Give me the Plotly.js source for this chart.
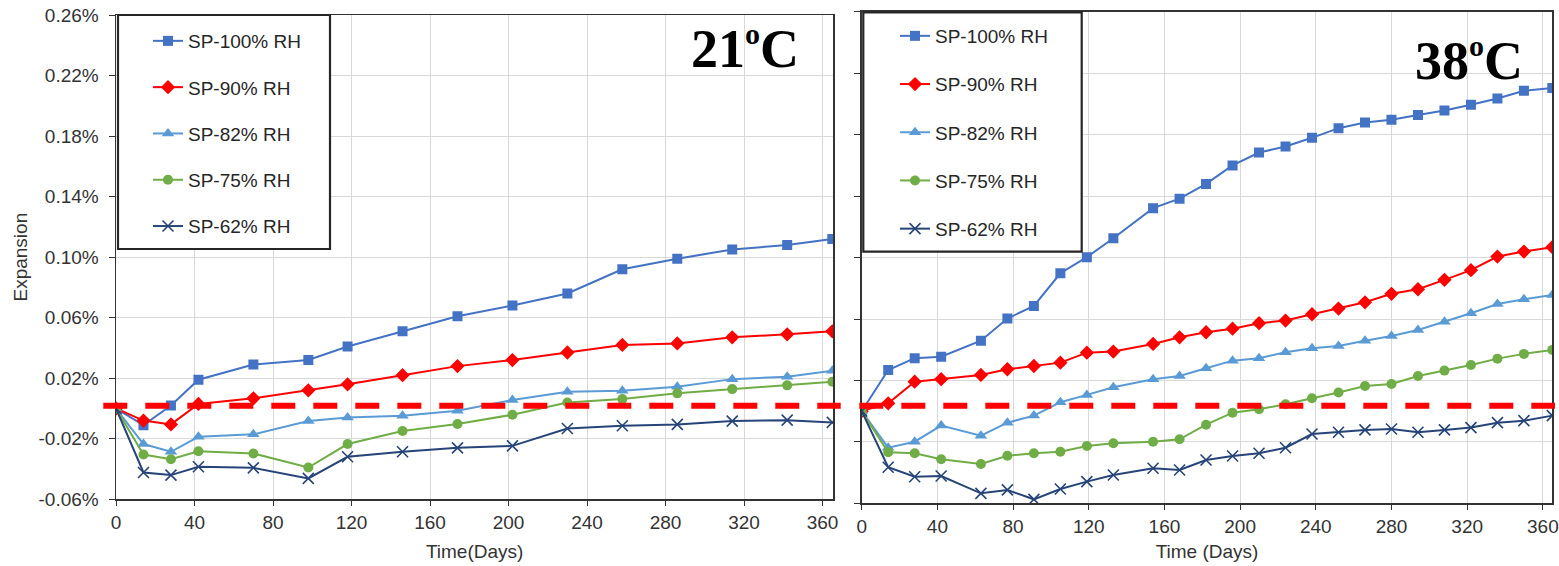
<!DOCTYPE html>
<html>
<head>
<meta charset="utf-8">
<script src="https://cdn.plot.ly/plotly-3.0.1.min.js"></script>
<style>html,body{margin:0;padding:0;background:#fff;}#chart{width:1559px;height:566px;}</style>
</head>
<body>
<div id="chart"></div>
<script>
// ---------- DATA (expansion in %) ----------
const seriesNames = ['SP-100% RH', 'SP-90% RH', 'SP-82% RH', 'SP-75% RH', 'SP-62% RH'];

// 21 °C panel
const days21 = [0, 14, 28, 42, 70, 98, 118, 146, 174, 202, 230, 258, 286, 314, 342, 365];
const sp100_21 = [0, -0.011, 0.002, 0.019, 0.029, 0.032, 0.041, 0.051, 0.061, 0.068, 0.076, 0.092, 0.099, 0.105, 0.108, 0.112];
const sp90_21  = [0, -0.008, -0.0105, 0.003, 0.0067, 0.012, 0.016, 0.022, 0.028, 0.032, 0.037, 0.042, 0.043, 0.047, 0.049, 0.051];
const sp82_21  = [0, -0.0235, -0.0286, -0.0187, -0.0171, -0.0083, -0.0059, -0.0048, -0.0015, 0.0056, 0.011, 0.0117, 0.0144, 0.0194, 0.021, 0.0249];
const sp75_21  = [0, -0.0304, -0.0335, -0.0282, -0.0297, -0.039, -0.0235, -0.0149, -0.0103, -0.0041, 0.004, 0.0062, 0.01, 0.0128, 0.0153, 0.0177];
const sp62_21  = [0, -0.0423, -0.044, -0.0385, -0.0392, -0.0462, -0.0319, -0.0286, -0.026, -0.0247, -0.0132, -0.0114, -0.0105, -0.0083, -0.0077, -0.0092];

// 38 °C panel
const days38 = [0, 14, 28, 42, 63, 77, 91, 105, 119, 133, 154, 168, 182, 196, 210, 224, 238, 252, 266, 280, 294, 308, 322, 336, 350, 365];
const sp100_38 = [0, 0.0268, 0.0345, 0.0355, 0.0459, 0.0603, 0.0685, 0.0898, 0.1003, 0.1126, 0.1322, 0.1384, 0.148, 0.16, 0.1684, 0.1723, 0.178, 0.1843, 0.188, 0.1897, 0.1928, 0.1958, 0.1995, 0.2036, 0.2086, 0.2104];
const sp90_38  = [0, 0.0051, 0.0192, 0.0208, 0.0236, 0.0273, 0.0294, 0.0316, 0.0381, 0.0388, 0.0438, 0.0481, 0.0514, 0.0537, 0.0573, 0.059, 0.0631, 0.0668, 0.0709, 0.0764, 0.0794, 0.0855, 0.0918, 0.1007, 0.1039, 0.1068];
const sp82_38  = [0, -0.0238, -0.0199, -0.0094, -0.016, -0.0075, -0.0029, 0.0058, 0.0106, 0.0156, 0.0208, 0.0229, 0.028, 0.0329, 0.0345, 0.0384, 0.041, 0.0425, 0.0459, 0.049, 0.0529, 0.0583, 0.0638, 0.0698, 0.0729, 0.0757];
const sp75_38  = [0, -0.0268, -0.0274, -0.0313, -0.0344, -0.029, -0.0274, -0.0264, -0.0227, -0.0209, -0.0199, -0.0183, -0.0088, -0.001, 0.0012, 0.0045, 0.0084, 0.0121, 0.0164, 0.0177, 0.0229, 0.0264, 0.0301, 0.0342, 0.0373, 0.0399];
const sp62_38  = [0, -0.0365, -0.0427, -0.0422, -0.0535, -0.0513, -0.0574, -0.0507, -0.0459, -0.0416, -0.0372, -0.0383, -0.0318, -0.0292, -0.0274, -0.0238, -0.0149, -0.0137, -0.0122, -0.0116, -0.0137, -0.0122, -0.0107, -0.0075, -0.0062, -0.0029];

// Tick labels
const yTickVals = [-0.06, -0.02, 0.02, 0.06, 0.10, 0.14, 0.18, 0.22, 0.26];
const yTickText = ['-0.06%', '-0.02%', '0.02%', '0.06%', '0.10%', '0.14%', '0.18%', '0.22%', '0.26%'];
const xTickVals = [0, 40, 80, 120, 160, 200, 240, 280, 320, 360];
const panelLabels = ['21<sup><span style="font-size:30px">o</span></sup>C', '38<sup><span style="font-size:30px">o</span></sup>C'];
const refLevels = [0.0018, 0.0036];

// ---------- STYLE ----------
const W = 1559, H = 566;
const px = x => x / W;
const py = y => (H - y) / H;
const FONT = 'Liberation Sans, Arial, sans-serif';
const colors = ['#4472C4', '#FF0000', '#5B9BD5', '#70AD47', '#264478'];
const symbols = ['square', 'diamond', 'triangle-up', 'circle', 'x-thin'];
const sizes = [10, 11, 11, 10, 11];

function mkTraces(days, ys, xa, ya, legendId) {
  return ys.map((y, i) => ({
    type: 'scatter', mode: 'lines+markers',
    x: days, y: y, xaxis: xa, yaxis: ya,
    name: seriesNames[i], legend: legendId, legendgroup: legendId + i,
    line: {color: colors[i], width: 2},
    marker: {color: colors[i], symbol: symbols[i], size: sizes[i],
             line: {color: colors[i], width: symbols[i] === 'x-thin' ? 1.6 : 0}}
  }));
}

const data = [
  ...mkTraces(days21, [sp100_21, sp90_21, sp82_21, sp75_21, sp62_21], 'x', 'y', 'legend'),
  ...mkTraces(days38, [sp100_38, sp90_38, sp82_38, sp75_38, sp62_38], 'x2', 'y2', 'legend2')
];

const axisCommon = {
  showline: true, linecolor: '#333', linewidth: 1.5, mirror: true,
  showgrid: true, gridcolor: '#d9d9d9', gridwidth: 1, zeroline: false,
  tickfont: {family: FONT, size: 19, color: '#333'},
  ticks: 'outside', tickcolor: '#333'
};

const layout = {
  width: W, height: H, autosize: false,
  margin: {l: 0, r: 0, t: 0, b: 0},
  paper_bgcolor: '#fff', plot_bgcolor: '#fff',
  font: {family: FONT, color: '#333'},
  xaxis: Object.assign({}, axisCommon, {
    domain: [px(116), px(833.3)], range: [0, 365.5], tickvals: xTickVals,
    ticklen: 5, anchor: 'y',
    title: {text: 'Time(Days)', font: {family: FONT, size: 19, color: '#333'}, standoff: 13}
  }),
  yaxis: Object.assign({}, axisCommon, {
    domain: [py(499.3), py(15)], range: [-0.06, 0.26],
    tickvals: yTickVals, ticktext: yTickText, ticklen: 6, anchor: 'x', ticklabelstandoff: 6,
    title: {text: 'Expansion', font: {family: FONT, size: 19, color: '#333'}, standoff: 6}
  }),
  xaxis2: Object.assign({}, axisCommon, {
    domain: [px(861.7), px(1552.3)], range: [0, 365], tickvals: xTickVals,
    ticklen: 5, anchor: 'y2',
    title: {text: 'Time (Days)', font: {family: FONT, size: 19, color: '#333'}, standoff: 9}
  }),
  yaxis2: Object.assign({}, axisCommon, {
    domain: [py(503.3), py(11.9)], range: [-0.06, 0.26],
    tickvals: yTickVals, ticklen: 6, showticklabels: false, anchor: 'x2'
  }),
  legend: {
    x: px(148), xanchor: 'left', y: py(22), yanchor: 'top',
    bgcolor: 'rgba(0,0,0,0)', borderwidth: 0, traceorder: 'grouped', tracegroupgap: 18.6,
    font: {family: FONT, size: 19, color: '#262626'}, itemwidth: 30
  },
  legend2: {
    x: px(895), xanchor: 'left', y: py(17), yanchor: 'top',
    bgcolor: 'rgba(0,0,0,0)', borderwidth: 0, traceorder: 'grouped', tracegroupgap: 20.5,
    font: {family: FONT, size: 19, color: '#262626'}, itemwidth: 30
  },
  shapes: [
    // reference dashed lines
    {type: 'line', layer: 'above', xref: 'paper', yref: 'y', x0: px(103.3), x1: px(840.7), y0: refLevels[0], y1: refLevels[0],
     line: {color: '#FF0000', width: 6, dash: '24px,18px'}},
    {type: 'line', layer: 'above', xref: 'paper', yref: 'y2', x0: px(859.3), x1: px(1555), y0: refLevels[1], y1: refLevels[1],
     line: {color: '#FF0000', width: 6, dash: '24px,18px'}},
    // legend boxes
    {type: 'rect', layer: 'above', xref: 'paper', yref: 'paper', x0: px(118), x1: px(330), y0: py(249), y1: py(15),
     fillcolor: '#fff', line: {color: '#262626', width: 2.2}},
    {type: 'rect', layer: 'above', xref: 'paper', yref: 'paper', x0: px(863.3), x1: px(1081.7), y0: py(251.7), y1: py(12.3),
     fillcolor: '#fff', line: {color: '#262626', width: 2.2}}
  ],
  annotations: [
    {text: panelLabels[0], xref: 'paper', yref: 'paper', x: px(745), y: py(48), xanchor: 'center', yanchor: 'middle',
     showarrow: false, font: {family: 'Liberation Serif, Times New Roman, serif', size: 54, color: '#000', weight: 'bold'}},
    {text: panelLabels[1], xref: 'paper', yref: 'paper', x: px(1469), y: py(60), xanchor: 'center', yanchor: 'middle',
     showarrow: false, font: {family: 'Liberation Serif, Times New Roman, serif', size: 54, color: '#000', weight: 'bold'}}
  ],
  showlegend: true
};

Plotly.newPlot('chart', data, layout, {displayModeBar: false, staticPlot: true});
</script>
</body>
</html>
